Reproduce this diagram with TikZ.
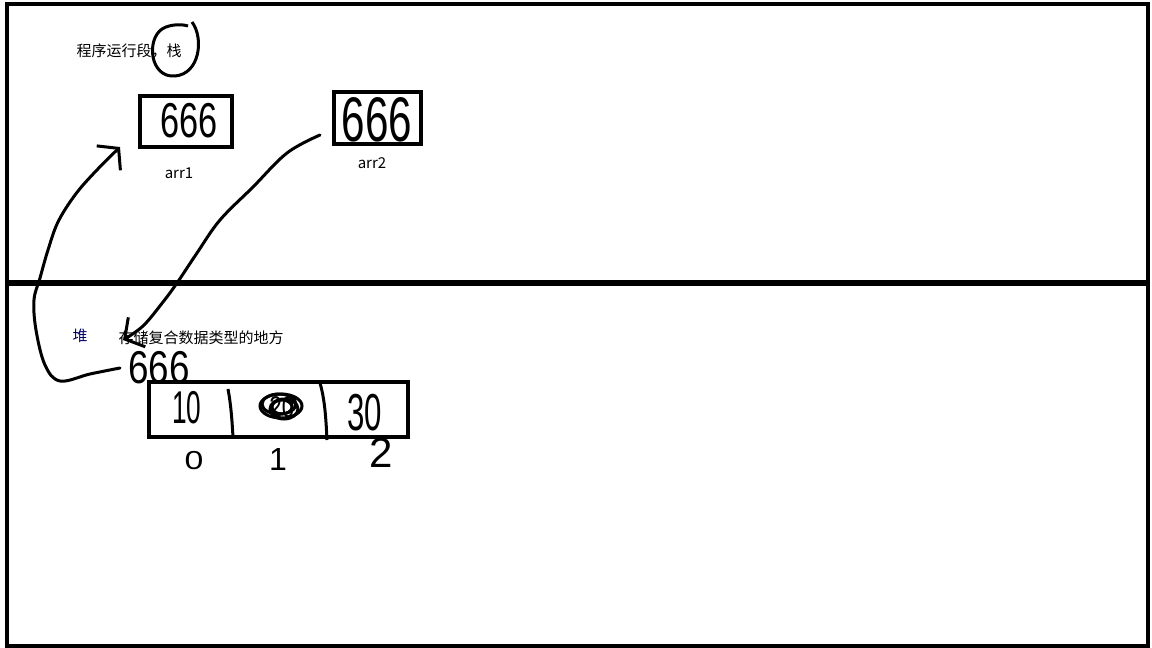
\documentclass[tikz,border=0pt]{standalone}
\usepackage{fontspec}
\setmainfont{Noto Sans CJK SC}
\newfontfamily\handfont{Liberation Sans}
\usetikzlibrary{arrows.meta, positioning}
\tikzset{cell box/.style={draw, line width=4pt},
  label text/.style={font=\fontsize{15}{17}\selectfont},
  hand/.style={font=\handfont\fontsize{#1}{#1}\selectfont, inner sep=0pt},
  scribble/.style={line width=3pt},
  arrow/.style={-{Straight Barb[length=14pt, width=34pt]}, line width=3pt, line cap=round}
}

\begin{document}
\begin{tikzpicture}[x=1pt, y=-1pt]
          \useasboundingbox (0,0) rectangle (1152,648);
          % Frame
          \draw[line width=4pt] (7,4) rectangle (1148,646);
          \draw[line width=6.5pt] (7,283) -- (1148,283);
          % Stack segment
          \node[label text, anchor=west] (stack) at (73,51) {程序运行段，栈};
          \draw[line width=3pt] (192,22) .. controls (204,38) and (200,74) .. (175,76)
            .. controls (150,78) and (146,40) .. (162,29) .. controls (170,24) and (182,24) .. (188,26);
          \node[cell box, minimum width=92pt, minimum height=51pt] (arr1) at (186,121.5) {};
          \node[hand=49, xscale=0.7, transform shape] (val1) at (189,121) {666};
          \node[label text] (name1) at (179,173) {arr1};
          \node[cell box, minimum width=87pt, minimum height=52pt] (arr2) at (377.5,118) {};
          \node[hand=63, xscale=0.67, transform shape] (val2) at (377,120) {666};
          \node[label text] (name2) at (372,163) {arr2};
          % Heap segment
          \node[label text, text=blue!40!black] (heap) at (80,336) {堆};
          \node[label text, anchor=west] (heapinfo) at (115,338) {存储复合数据类型的地方};
          \node[hand=46, xscale=0.8, transform shape] (addr) at (159,368) {666};
          \node[cell box, minimum width=259pt, minimum height=55pt] (arr) at (278.5,409.5) {};
          \draw[line width=3pt] (228,389) .. controls (231,405) and (232,420) .. (233,437);
          \draw[line width=3pt] (320,383) .. controls (325,400) and (326,420) .. (327,440);
          \node[hand=46, xscale=0.57, transform shape] (e0) at (187,408) {10};
          \node[hand=30, xscale=0.75, transform shape] (e1) at (282,407) {20};
          \draw[scribble] (281,406) ellipse (21pt and 12pt);
          \draw[scribble] (279,404) ellipse (17pt and 10pt);
          \draw[scribble] (284,409) ellipse (14pt and 10pt);
          \draw[scribble] (282,407) ellipse (10pt and 7pt);
          \node[hand=52, xscale=0.6, transform shape] (e2) at (365,413) {30};
          \node[hand=26, xscale=1.3, transform shape] (i0) at (194,461) {0};
          \node[hand=32, transform shape] (i1) at (278,459) {1};
          \node[hand=42, transform shape] (i2) at (381,453) {2};
          % Connections
          \coordinate (from1) at (120,368);
          \coordinate (tip1) at (120,147);
          \coordinate (from2) at (320,135);
          \coordinate (tip2) at (123,340);
          \draw[arrow] plot[smooth, tension=0.6] coordinates {(from1) (90,374) (60,381) (45,365)
            (36,330) (34,300) (40,278) (48,250) (58,222) (75,195) (95,172) (tip1)};
          \draw[arrow] plot[smooth, tension=0.6] coordinates {(from2) (287,153) (253,187)
            (220,220) (197,253) (177,283) (163,302) (143,326) (tip2)};
        \end{tikzpicture}
\end{document}
